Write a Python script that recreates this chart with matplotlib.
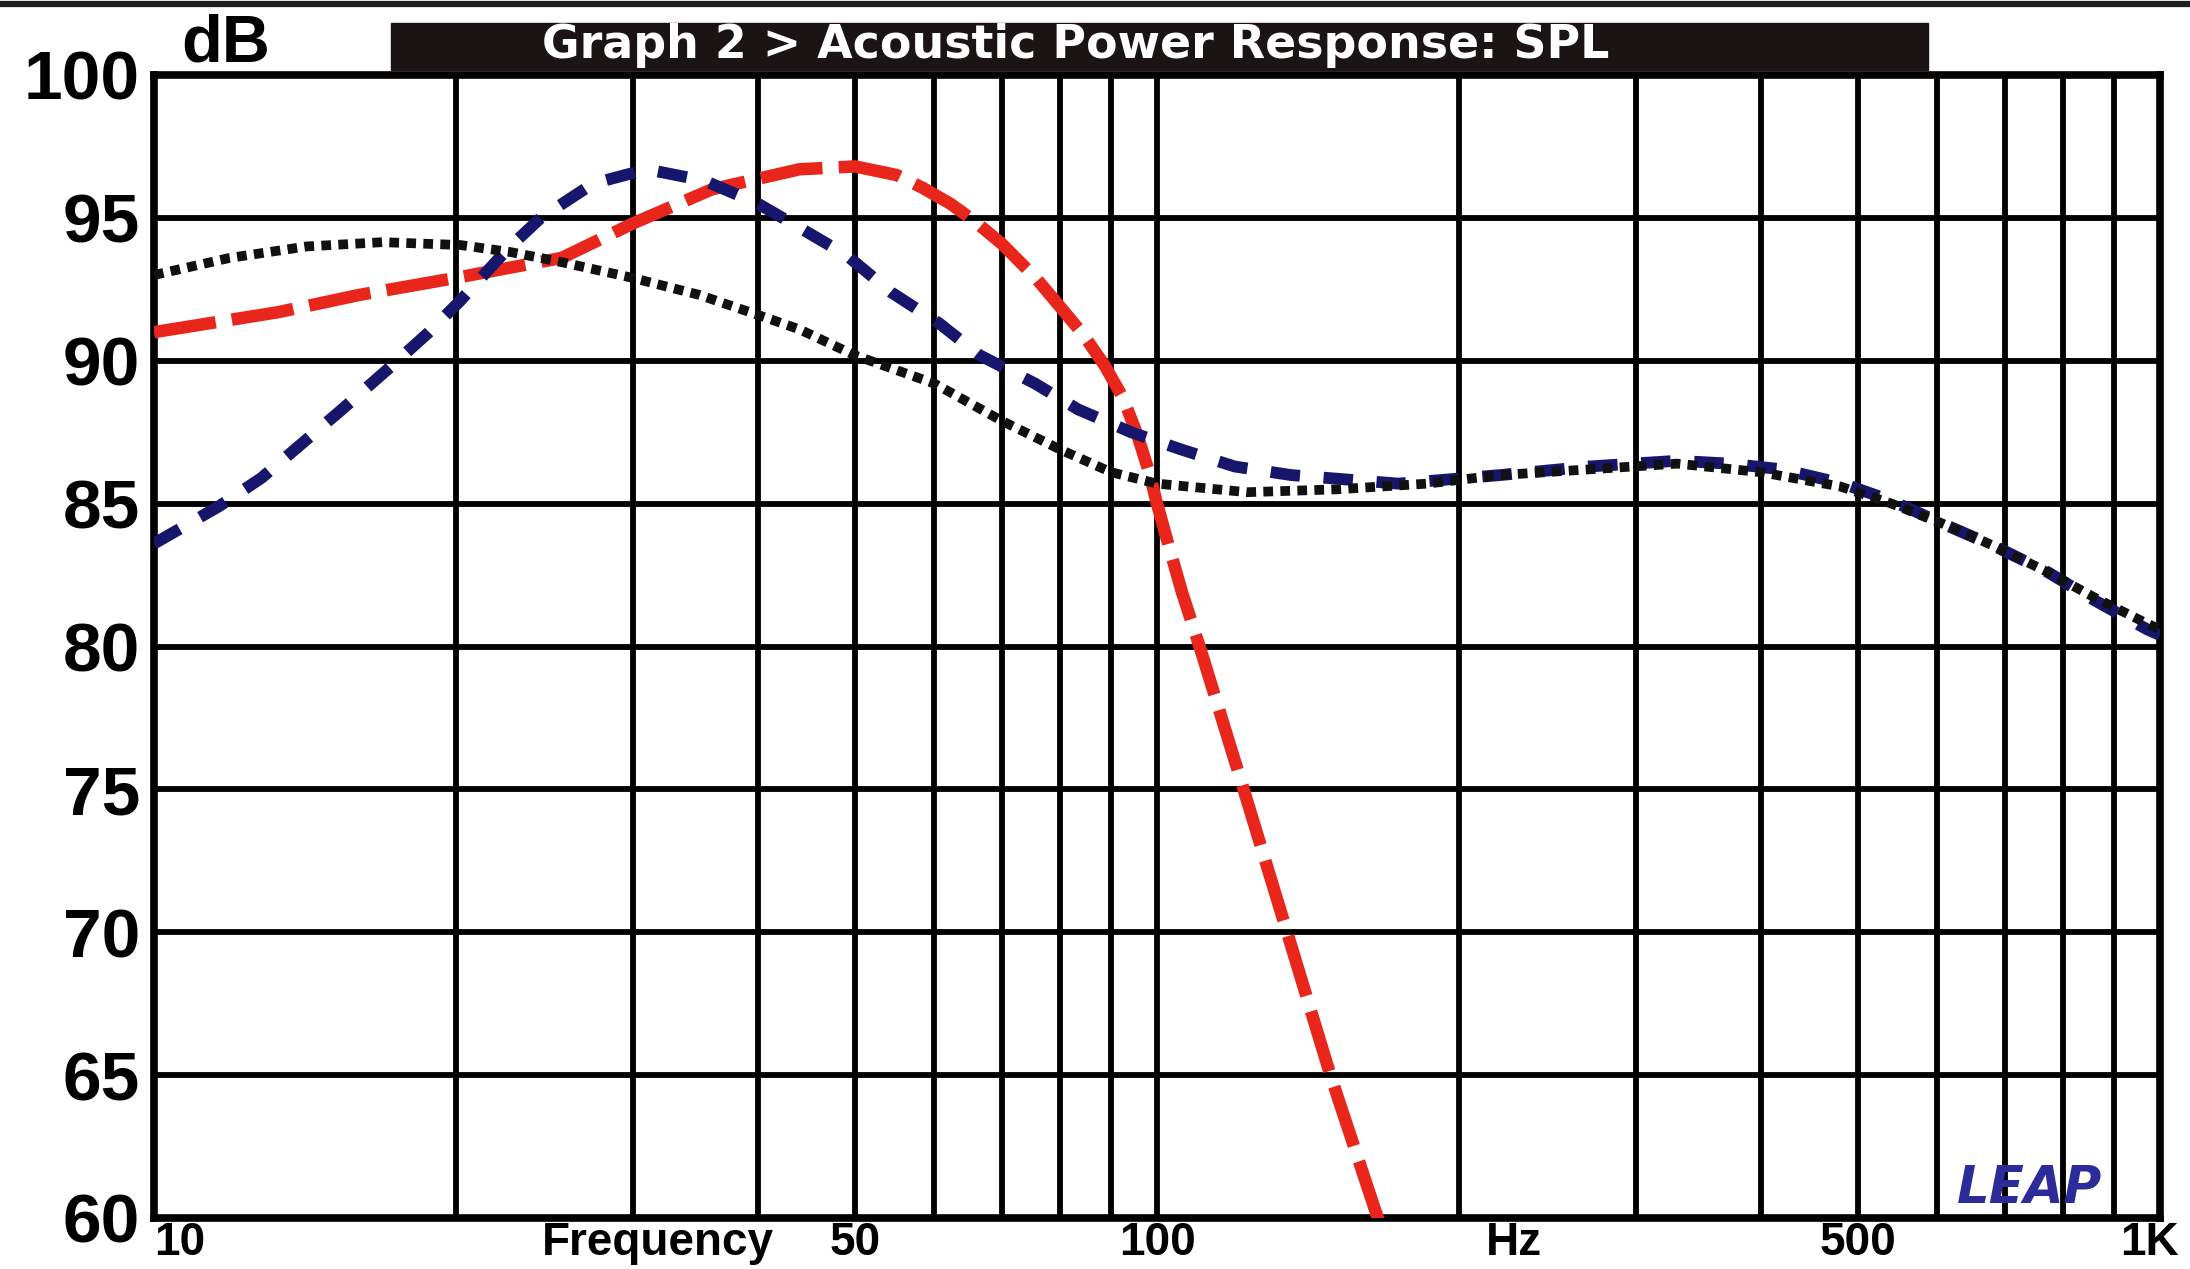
import matplotlib.pyplot as plt
from matplotlib.patches import Rectangle
from matplotlib.lines import Line2D
from matplotlib.transforms import offset_copy

# values (frequency in Hz, level in dB)
red_freq = [10, 13.3, 16, 20, 25.5, 30, 36, 44, 50, 55, 58.4, 62.2, 65.7, 70,
            75.7, 80, 84.5, 88.8, 92.5, 95.6, 98.2, 100, 102.4, 105.9, 110.5,
            122, 134.8, 148.9, 166, 172]
red_db = [91.0, 91.7, 92.3, 92.9, 93.6, 94.8, 96.0, 96.7, 96.8, 96.5, 96.05,
          95.5, 94.9, 94.1, 92.9, 91.9, 90.9, 89.8, 88.7, 87.4, 86.1, 85.0,
          83.7, 81.9, 79.9, 75.0, 70.0, 65.0, 60.0, 58.5]

blue_freq = [10, 11.6, 12.8, 15.4, 17.1, 18.8, 20.2, 22.5, 24.3, 27.4, 31,
             35.4, 40, 44.8, 49, 54.3, 60.7, 66.5, 75.6, 83.4, 94.2, 105.6,
             119.5, 136, 174, 220, 270, 330, 372, 420, 483, 540, 607, 685,
             773, 862, 971, 1000]
blue_db = [83.6, 84.9, 85.9, 88.3, 89.7, 91.0, 92.1, 93.9, 95.0, 96.2, 96.7,
           96.3, 95.5, 94.5, 93.7, 92.4, 91.3, 90.2, 89.2, 88.3, 87.5, 86.9,
           86.3, 86.0, 85.7, 86.0, 86.3, 86.5, 86.4, 86.2, 85.7, 85.1, 84.3,
           83.5, 82.6, 81.6, 80.6, 80.4]

black_freq = [10, 11.9, 14.2, 16.9, 20.2, 22.7, 25.5, 30, 35, 40.8, 44, 49.9,
              60, 70, 80, 90, 100, 123, 151, 186, 220, 270, 330, 400, 480,
              540, 607, 685, 773, 862, 971, 1000]
black_db = [93.0, 93.6, 94.0, 94.15, 94.05, 93.8, 93.45, 92.9, 92.3, 91.5,
            91.1, 90.2, 89.2, 87.9, 86.9, 86.1, 85.7, 85.4, 85.5, 85.7, 86.0,
            86.2, 86.4, 86.1, 85.6, 85.0, 84.3, 83.5, 82.6, 81.7, 80.8, 80.6]

y_ticks = [60, 65, 70, 75, 80, 85, 90, 95, 100]
x_major = [10, 50, 100, 500, 1000]
x_major_labels = ['10', '50', '100', '500', '1K']
x_minor = [20, 30, 40, 60, 70, 80, 90, 200, 300, 400, 600, 700, 800, 900]
# axis words placed in the same row as the frequency labels
x_words = [(31.8, 'Frequency'), (227, 'Hz')]

W, H = 2190, 1269
plt.rcParams['font.family'] = ['Liberation Sans', 'DejaVu Sans']

fig = plt.figure(figsize=(W / 100, H / 100), dpi=100)
left, right, top, bottom = 154, 2160, 75, 1218
ax = fig.add_axes([left / W, 1 - bottom / H, (right - left) / W, (bottom - top) / H])

ax.plot(red_freq, red_db, color='#e8261c', lw=9, dashes=(5, 1.3),
        dash_capstyle='butt', zorder=3)
ax.plot(blue_freq, blue_db, color='#16166c', lw=8.5, dashes=(2.5, 2.0),
        dash_capstyle='butt', zorder=4)
ax.plot(black_freq, black_db, color='#111111', lw=7, dashes=(1.0, 0.75),
        dash_capstyle='butt', zorder=5)

ax.set_xscale('log')
ax.set_xlim(10, 1000)
ax.set_ylim(60, 100)
ax.set_xticks(x_major)
ax.set_xticklabels([])
ax.set_xticks(x_minor, minor=True)
ax.set_xticklabels([], minor=True)
ax.set_yticks(y_ticks)

ax.grid(True, which='both', axis='x', color='black', lw=4.2, zorder=1)
ax.grid(True, which='major', axis='y', color='black', lw=4.2, zorder=1)
ax.set_axisbelow(True)

ax.tick_params(axis='both', which='both', length=0)
ax.tick_params(axis='y', labelsize=50, pad=10)
for lab in ax.get_yticklabels():
    lab.set_fontweight('bold')

for sp in ax.spines.values():
    sp.set_linewidth(5.5)
    sp.set_color('black')

# frequency labels drawn on a baseline just above the bottom edge
row = offset_copy(ax.get_xaxis_transform(), fig=fig, x=0, y=-37, units='dots')
for f, lab in zip(x_major, x_major_labels):
    if lab == '10':
        ax.text(f, 0, lab, transform=row, ha='left', va='baseline',
                fontsize=33, fontweight='bold')
    elif lab == '1K':
        ax.text(f, 0, lab, transform=offset_copy(row, fig=fig, x=-11, y=0, units='dots'),
                ha='center', va='baseline', fontsize=33, fontweight='bold')
    else:
        ax.text(f, 0, lab, transform=row, ha='center', va='baseline',
                fontsize=33, fontweight='bold')
for f, word in x_words:
    ax.text(f, 0, word, transform=row, ha='center', va='baseline',
            fontsize=33, fontweight='bold')

ax.text(0.899, 0.013, 'LEAP', transform=ax.transAxes, ha='left', va='baseline',
        fontsize=37, fontweight='bold', fontstyle='italic', color='#2b2b9a',
        family='DejaVu Sans', zorder=10)

# header: top rule, black title bar, dB label
fig.add_artist(Line2D([0, 1], [1 - 4 / H, 1 - 4 / H], color='#1e1e1e', lw=4.5,
                      transform=fig.transFigure))
fig.add_artist(Rectangle((391 / W, 1 - 70 / H), (1928 - 391) / W, 47 / H,
                         transform=fig.transFigure, color='#1a1414'))
fig.text(542 / W, 1 - 46 / H, 'Graph 2 > Acoustic Power Response: SPL',
         color='white', fontsize=33, fontweight='bold', family='DejaVu Sans',
         ha='left', va='center')
fig.text(181 / W, 1 - 62 / H, 'dB', fontsize=48, fontweight='bold',
         ha='left', va='baseline')

fig.savefig('out.png', dpi=100, facecolor='white')
